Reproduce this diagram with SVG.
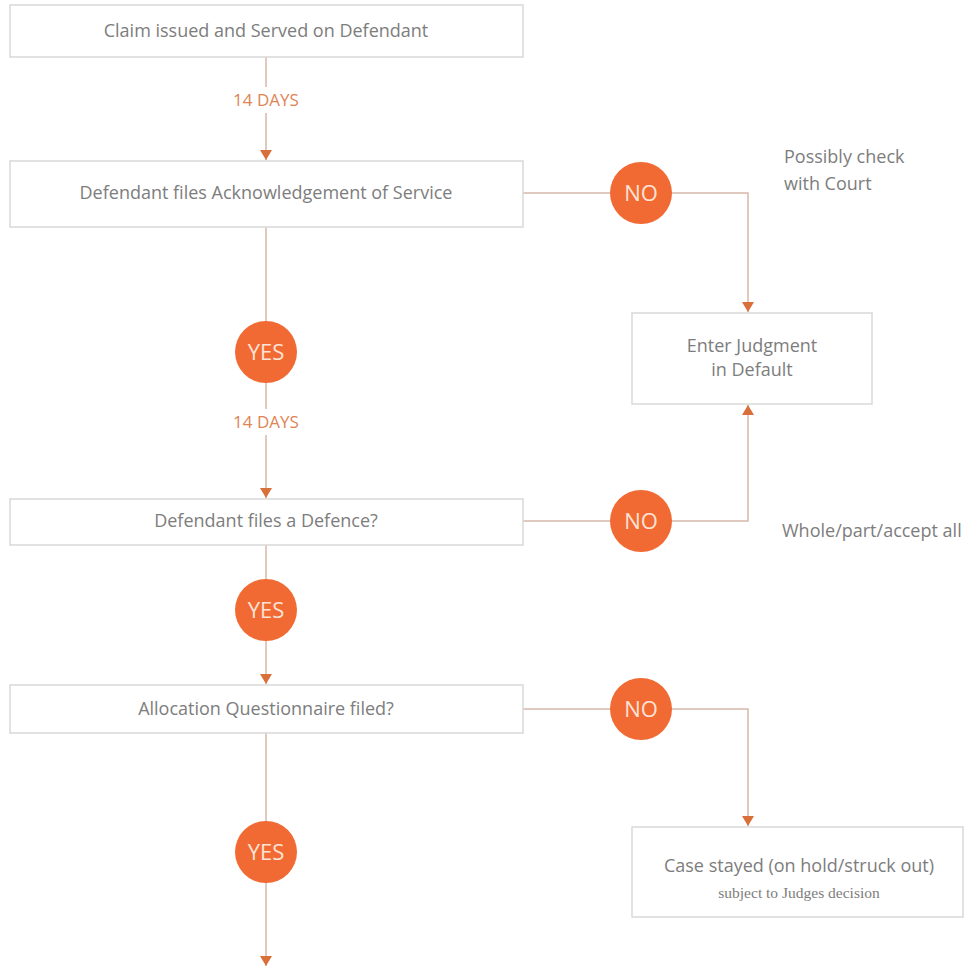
<svg xmlns="http://www.w3.org/2000/svg" width="973" height="967" viewBox="0 0 973 967">
<style>
.box{fill:#fff;stroke:#d9d9d9;stroke-width:1.5}
.t{font-family:"Open Sans","Liberation Sans",sans-serif;font-size:18px;fill:#7d7d7d;text-anchor:middle}
.ts{font-family:"Liberation Serif",serif;font-size:15.5px;fill:#7d7d7d;text-anchor:middle}
.note{font-family:"Open Sans","Liberation Sans",sans-serif;font-size:18px;fill:#7d7d7d}
.days{font-family:"Open Sans","Liberation Sans",sans-serif;font-size:17px;fill:#e08455;text-anchor:middle}
.c{fill:#f26a33}
.ct{font-family:"Open Sans","Liberation Sans",sans-serif;font-size:22px;fill:#fde3d6;text-anchor:middle}
.ln{fill:none;stroke:#d6b9ab;stroke-width:1.5}
</style>
<defs>
<marker id="ah" viewBox="0 0 10 12" refX="10" refY="6" markerWidth="10" markerHeight="12" markerUnits="userSpaceOnUse" orient="auto">
<path d="M0,0 L10,6 L0,12 Z" fill="#d9703a"/>
</marker>
</defs>
<rect width="973" height="967" fill="#fff"/>
<g id="connectors">
<line class="ln" x1="266" y1="57" x2="266" y2="87"/>
<line class="ln" x1="266" y1="113" x2="266" y2="160" marker-end="url(#ah)"/>
<line class="ln" x1="266" y1="227" x2="266" y2="409"/>
<line class="ln" x1="266" y1="435" x2="266" y2="498" marker-end="url(#ah)"/>
<line class="ln" x1="266" y1="545" x2="266" y2="684" marker-end="url(#ah)"/>
<line class="ln" x1="266" y1="733" x2="266" y2="966" marker-end="url(#ah)"/>
<polyline class="ln" points="523,193 748,193 748,312" marker-end="url(#ah)"/>
<polyline class="ln" points="523,521 748,521 748,405" marker-end="url(#ah)"/>
<polyline class="ln" points="523,709 748,709 748,826" marker-end="url(#ah)"/>
<text class="days" x="266" y="106">14 DAYS</text>
<text class="days" x="266" y="428">14 DAYS</text>
</g>
<g id="n1"><rect class="box" x="10" y="5" width="513" height="52"/><text class="t" x="266" y="37">Claim issued and Served on Defendant</text></g>
<g id="n2"><rect class="box" x="10" y="161" width="513" height="66"/><text class="t" x="266" y="199">Defendant files Acknowledgement of Service</text></g>
<g id="n3"><rect class="box" x="10" y="499" width="513" height="46"/><text class="t" x="266" y="527">Defendant files a Defence?</text></g>
<g id="n4"><rect class="box" x="10" y="685" width="513" height="48"/><text class="t" x="266" y="715">Allocation Questionnaire filed?</text></g>
<g id="n5"><rect class="box" x="632" y="313" width="240" height="91"/><text class="t" x="752" y="352">Enter Judgment</text><text class="t" x="752" y="376">in Default</text></g>
<g id="n6"><rect class="box" x="632" y="827" width="331" height="90"/><text class="t" x="799" y="872">Case stayed (on hold/struck out)</text><text class="ts" x="799" y="898">subject to Judges decision</text></g>
<g id="no1"><circle class="c" cx="641" cy="193" r="31"/><text class="ct" x="641" y="201">NO</text></g>
<g id="no2"><circle class="c" cx="641" cy="521" r="31"/><text class="ct" x="641" y="529">NO</text></g>
<g id="no3"><circle class="c" cx="641" cy="709" r="31"/><text class="ct" x="641" y="717">NO</text></g>
<g id="yes1"><circle class="c" cx="266" cy="352" r="31"/><text class="ct" x="266" y="360">YES</text></g>
<g id="yes2"><circle class="c" cx="266" cy="610" r="31"/><text class="ct" x="266" y="618">YES</text></g>
<g id="yes3"><circle class="c" cx="266" cy="852" r="31"/><text class="ct" x="266" y="860">YES</text></g>
<g id="notes">
<text class="note" x="784" y="163">Possibly check</text>
<text class="note" x="784" y="190">with Court</text>
<text class="note" x="782" y="537">Whole/part/accept all</text>
</g>
</svg>
